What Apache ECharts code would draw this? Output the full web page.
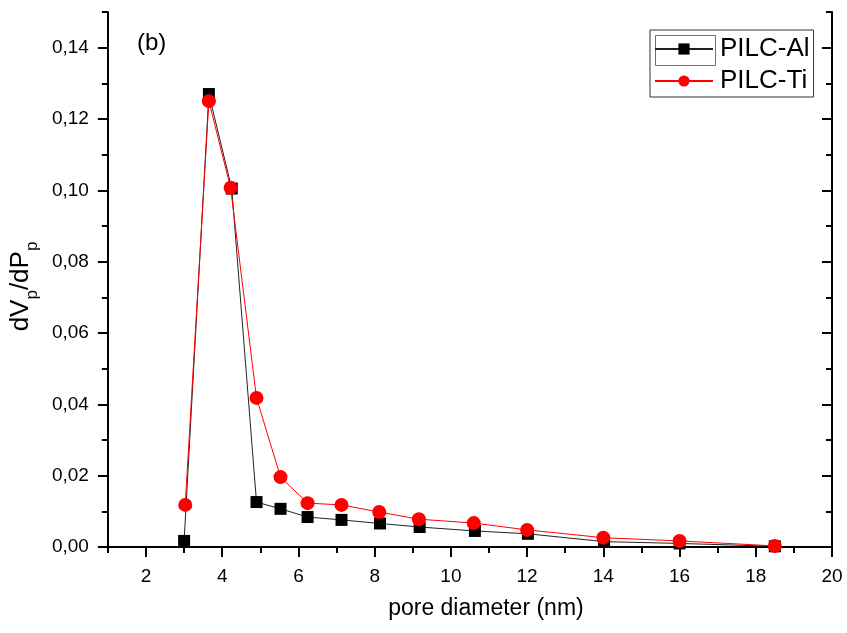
<!DOCTYPE html>
<html>
<head>
<meta charset="utf-8">
<script src="https://cdn.jsdelivr.net/npm/echarts@6/dist/echarts.min.js"></script>
<style>html,body{margin:0;padding:0;background:#fff}#c{width:847px;height:633px}</style>
</head>
<body>
<div id="c"></div>
<script>
// pore diameter (nm)
var poreAl = [3.0, 3.65, 4.25, 4.9, 5.53, 6.24, 7.13, 8.14, 9.18, 10.63, 12.02, 14.02, 16.0, 18.5];
var valuesAl = [0.0017, 0.127, 0.1005, 0.0126, 0.0107, 0.0084, 0.0076, 0.0066, 0.0056, 0.0045, 0.0037, 0.0015, 0.0010, 0.0002];
var poreTi = [3.03, 3.65, 4.22, 4.9, 5.53, 6.24, 7.13, 8.12, 9.16, 10.6, 12.0, 14.0, 16.0, 18.5];
var valuesTi = [0.0118, 0.125, 0.1007, 0.0418, 0.0196, 0.0123, 0.0118, 0.0098, 0.0078, 0.0067, 0.0048, 0.0026, 0.0017, 0.0003];
var xTickLabels = [2, 4, 6, 8, 10, 12, 14, 16, 18, 20];
var yTickLabels = [0, 0.02, 0.04, 0.06, 0.08, 0.10, 0.12, 0.14];

function pairs(xs, ys) { return xs.map(function (x, i) { return [x, ys[i]]; }); }

var FONT = 'Liberation Sans, Arial, sans-serif';
var chart = echarts.init(document.getElementById('c'));
var common = { min: 1, max: 20, type: 'value', splitLine: { show: false } };
var commonY = { min: 0, max: 0.15, type: 'value', splitLine: { show: false } };
chart.setOption({
  animation: false,
  grid: { left: 107, right: 15, top: 12, bottom: 86, containLabel: false },
  textStyle: { fontFamily: FONT },
  xAxis: [
    Object.assign({}, common, {
      position: 'bottom', interval: 1,
      axisLine: { show: true, lineStyle: { color: '#000', width: 2 } },
      axisTick: { show: true, length: 6, lineStyle: { color: '#000', width: 2 } },
      axisLabel: { customValues: xTickLabels, fontSize: 19, color: '#000', margin: 20, fontFamily: FONT },
      name: 'pore diameter (nm)', nameLocation: 'middle', nameGap: 50,
      nameTextStyle: { fontSize: 23, color: '#000', fontFamily: FONT, padding: [0, 0, 0, 32] }
    }),
    Object.assign({}, common, {
      position: 'bottom',
      axisLine: { show: false },
      axisTick: { show: true, customValues: xTickLabels, length: 10, lineStyle: { color: '#000', width: 2 } },
      axisLabel: { show: false }
    }),
    Object.assign({}, common, {
      position: 'top',
      axisLine: { show: true, lineStyle: { color: '#000', width: 2 } },
      axisTick: { show: false }, axisLabel: { show: false }
    })
  ],
  yAxis: [
    Object.assign({}, commonY, {
      position: 'left', interval: 0.01,
      axisLine: { show: true, lineStyle: { color: '#000', width: 2 } },
      axisTick: { show: true, length: 6, lineStyle: { color: '#000', width: 2 } },
      axisLabel: {
        customValues: yTickLabels, fontSize: 19, color: '#000', margin: 19, fontFamily: FONT,
        formatter: function (v) { return v.toFixed(2).replace('.', ','); }
      },
      name: '{n|dV}{s|p}{n|/dP}{s|p}', nameLocation: 'middle', nameGap: 68, nameRotate: 90,
      nameTextStyle: {
        color: '#000', fontFamily: FONT, padding: [0, 14, 0, 0],
        rich: {
          n: { fontSize: 26, color: '#000', fontFamily: FONT, verticalAlign: 'bottom', lineHeight: 30 },
          s: { fontSize: 17, color: '#000', fontFamily: FONT, verticalAlign: 'bottom', lineHeight: 17, padding: [0, 0, -7, 0] }
        }
      }
    }),
    Object.assign({}, commonY, {
      position: 'left',
      axisLine: { show: false },
      axisTick: { show: true, customValues: yTickLabels, length: 10, lineStyle: { color: '#000', width: 2 } },
      axisLabel: { show: false }
    }),
    Object.assign({}, commonY, {
      position: 'right', interval: 0.01,
      axisLine: { show: true, lineStyle: { color: '#000', width: 2 } },
      axisTick: { show: true, inside: true, length: 6, lineStyle: { color: '#000', width: 2 } },
      axisLabel: { show: false }
    }),
    Object.assign({}, commonY, {
      position: 'right',
      axisLine: { show: false },
      axisTick: { show: true, inside: true, customValues: yTickLabels, length: 10, lineStyle: { color: '#000', width: 2 } },
      axisLabel: { show: false }
    })
  ],
  legend: {
    orient: 'vertical', left: 650, top: 30, padding: [5, 4, 2, 4], itemGap: 4,
    itemWidth: 58, itemHeight: 14, borderColor: '#333', borderWidth: 1, borderRadius: 0,
    textStyle: { fontSize: 26, lineHeight: 28, color: '#000', fontFamily: FONT, padding: [0, 0, 0, 2] },
    data: ['PILC-Al', 'PILC-Ti']
  },
  graphic: [
    { type: 'text', left: 137, top: 31, style: { text: '(b)', font: '24px ' + FONT, fill: '#000' } },
    { type: 'rect', left: 653, top: 33, shape: { width: 60, height: 30 }, style: { fill: 'none', stroke: '#ff3333', lineWidth: 1 } }
  ],
  series: [
    {
      name: 'PILC-Al', type: 'line', data: pairs(poreAl, valuesAl),
      symbol: 'rect', symbolSize: 12,
      lineStyle: { color: '#222', width: 1 }, itemStyle: { color: '#000' }, z: 2
    },
    {
      name: 'PILC-Ti', type: 'line', data: pairs(poreTi, valuesTi),
      symbol: 'circle', symbolSize: 14,
      lineStyle: { color: '#ff0000', width: 1 }, itemStyle: { color: '#ff0000' }, z: 3
    }
  ]
});
</script>
</body>
</html>
